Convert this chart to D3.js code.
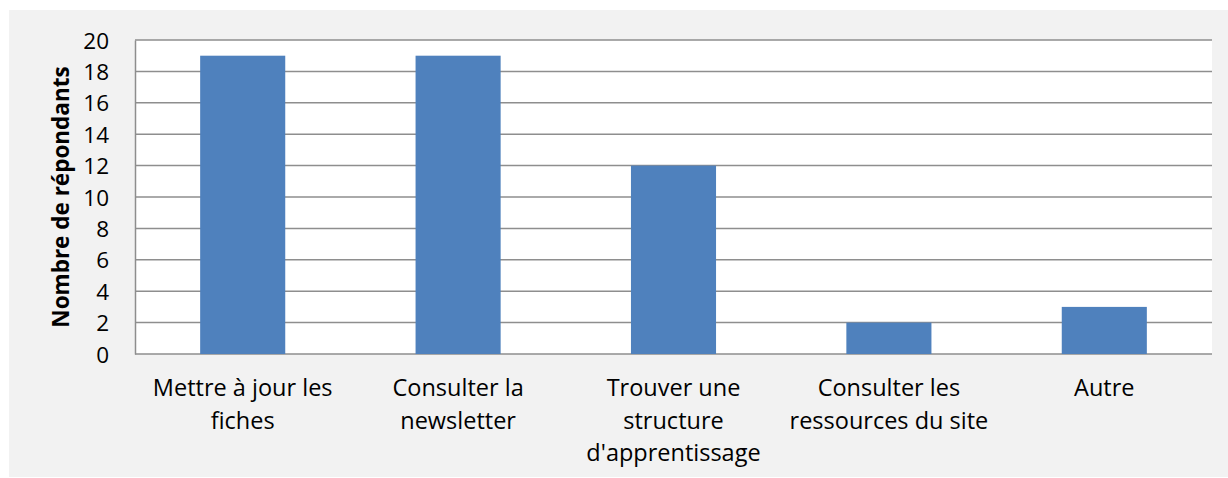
<!DOCTYPE html>
<html>
<head>
<meta charset="utf-8">
<script src="https://cdnjs.cloudflare.com/ajax/libs/d3/7.8.5/d3.min.js"></script>
<style>
  body { margin: 0; background: #fff; }
  svg text { font-family: "Open Sans", "Noto Sans", sans-serif; fill: #000; }
</style>
</head>
<body>
<div id="chart"></div>
<script>
const categories = ["Mettre à jour les\nfiches", "Consulter la\nnewsletter", "Trouver une\nstructure\nd'apprentissage", "Consulter les\nressources du site", "Autre"];
const values = [19, 19, 12, 2, 3];
const yTicks = [0, 2, 4, 6, 8, 10, 12, 14, 16, 18, 20];
const yTitle = "Nombre de répondants";

const width = 1228, height = 478;
const plot = {left: 135, right: 1212, top: 40, bottom: 354};

const svg = d3.select("#chart").append("svg")
  .attr("width", width)
  .attr("height", height);

// outer panel
svg.append("rect")
  .attr("x", 9).attr("y", 10)
  .attr("width", width - 9).attr("height", 467)
  .attr("fill", "#f2f2f2");

svg.append("rect")
  .attr("x", plot.left).attr("y", plot.top)
  .attr("width", plot.right - plot.left).attr("height", plot.bottom - plot.top)
  .attr("fill", "#fff");

const x = d3.scaleBand().domain(categories).range([plot.left, plot.right]).padding(0);
const y = d3.scaleLinear().domain([0, 20]).range([plot.bottom, plot.top]);

// gridlines
svg.append("g")
  .selectAll("line")
  .data(yTicks)
  .enter().append("line")
    .attr("x1", plot.left).attr("x2", plot.right)
    .attr("y1", d => y(d)).attr("y2", d => y(d))
    .attr("stroke", "#8e8e8e")
    .attr("stroke-width", 1.5);

// left axis
const yAxis = svg.append("g")
  .attr("transform", "translate(" + plot.left + ",0)")
  .call(d3.axisLeft(y).tickValues(yTicks).tickSize(0).tickPadding(26));
yAxis.select(".domain").attr("stroke", "#8e8e8e").attr("stroke-width", 1.5);
yAxis.selectAll("text").style("font-size", "22.5px").attr("dy", "0.36em");

// bars
const barW = x.bandwidth() * 0.395;
svg.append("g")
  .selectAll("rect")
  .data(values)
  .enter().append("rect")
    .attr("x", (d, i) => x(categories[i]) + (x.bandwidth() - barW) / 2)
    .attr("y", d => y(d))
    .attr("width", barW)
    .attr("height", d => y(0) - y(d))
    .attr("fill", "#4f81bd");

// category labels
const labels = svg.append("g")
  .selectAll("text")
  .data(categories)
  .enter().append("text")
    .attr("text-anchor", "middle")
    .style("font-size", "23.5px")
    .attr("transform", d => "translate(" + (x(d) + x.bandwidth() / 2) + ",396)");
labels.selectAll("tspan")
  .data(d => d.split("\n"))
  .enter().append("tspan")
    .attr("x", 0)
    .attr("y", (d, i) => i * 32.5)
    .text(d => d);

// y title
svg.append("text")
  .attr("transform", "translate(69," + ((plot.top + plot.bottom) / 2) + ")rotate(-90)")
  .attr("text-anchor", "middle")
  .style("font-size", "22.5px")
  .style("font-weight", "bold")
  .text(yTitle);
</script>
</body>
</html>
